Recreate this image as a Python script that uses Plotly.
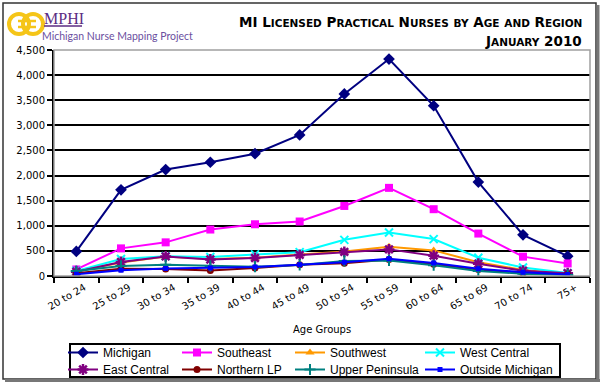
import plotly.graph_objects as go

age_groups = ["20 to 24", "25 to 29", "30 to 34", "35 to 39", "40 to 44", "45 to 49",
              "50 to 54", "55 to 59", "60 to 64", "65 to 69", "70 to 74", "75+"]
michigan = [490, 1715, 2120, 2265, 2435, 2810, 3625, 4320, 3390, 1870, 820, 395]
southeast = [130, 550, 670, 925, 1030, 1085, 1395, 1755, 1330, 845, 385, 250]
southwest = [90, 270, 390, 340, 365, 430, 490, 580, 510, 275, 120, 40]
west_central = [100, 340, 395, 380, 430, 475, 720, 865, 735, 365, 170, 58]
east_central = [85, 280, 390, 330, 360, 420, 480, 530, 405, 245, 105, 55]
northern_lp = [55, 145, 140, 110, 160, 225, 255, 330, 235, 130, 55, 35]
upper_peninsula = [100, 200, 225, 200, 185, 220, 300, 310, 215, 100, 45, 22]
outside_michigan = [35, 115, 150, 160, 180, 225, 275, 345, 260, 145, 75, 30]

W, H = 600, 382
L, R, T, B = 54, 10, 50, 106
PW, PH = W - L - R, H - T - B


def px(x):
    return (x - L) / PW


def py(y):
    return (H - B - y) / PH


# name, values, colour, symbol, size, marker line width
series = [
    ("Michigan", michigan, "#000080", "diamond", 9, 0),
    ("Southeast", southeast, "#FF00FF", "square", 8, 0),
    ("Southwest", southwest, "#FF9900", "triangle-up", 8, 0),
    ("West Central", west_central, "#00FFFF", "x-thin-open", 8, 2),
    ("East Central", east_central, "#800080", "asterisk-open", 9, 2.5),
    ("Northern LP", northern_lp, "#800000", "circle", 7, 0),
    ("Upper Peninsula", upper_peninsula, "#008080", "cross-thin-open", 8, 2),
    ("Outside Michigan", outside_michigan, "#0000FF", "square", 5, 0),
]

# legend entry placement (left x in px, top y in px)
legend_cols = [63, 177, 290, 420]
legend_rows = [338, 355]

fig = go.Figure()
legend_layouts = {}
for i, (name, vals, col, sym, size, lw) in enumerate(series):
    marker = dict(symbol=sym, size=size, color=col)
    if lw:
        marker["line"] = dict(color=col, width=lw)
    key = "legend" if i == 0 else "legend%d" % (i + 1)
    fig.add_trace(go.Scatter(x=age_groups, y=vals, name=name, mode="lines+markers",
                             line=dict(color=col, width=2), marker=marker, legend=key))
    legend_layouts[key] = dict(
        orientation="v", x=px(legend_cols[i % 4]), y=py(legend_rows[i // 4]),
        xanchor="left", yanchor="top", borderwidth=0, bgcolor="rgba(0,0,0,0)",
        font=dict(family="Liberation Sans", size=12, color="#000000"))

sc = '<span style="font-size:10.5px">'
title1 = ("<b>MI " + "L" + sc + "ICENSED</span> P" + sc + "RACTICAL</span> N" + sc + "URSES</span> "
          + sc + "BY</span> A" + sc + "GE</span> " + sc + "AND</span> R" + sc + "EGION</span></b>")
title2 = "<b>J" + sc + "ANUARY</span> 2010</b>"

shapes = [
    # plot area border (top/right gray)
    dict(type="rect", xref="paper", yref="paper", x0=0, x1=1, y0=0, y1=1,
         line=dict(color="#A0A0A0", width=1.5), layer="above"),
    # outer frame
    dict(type="rect", xref="paper", yref="paper", x0=px(3), x1=px(596), y0=py(3), y1=py(379),
         line=dict(color="#333333", width=1.5)),
    dict(type="line", xref="paper", yref="paper", x0=px(598), x1=px(598), y0=py(5), y1=py(382),
         line=dict(color="#777777", width=3)),
    dict(type="line", xref="paper", yref="paper", x0=px(5), x1=px(600), y0=py(380.5), y1=py(380.5),
         line=dict(color="#777777", width=3)),
    # legend box
    dict(type="rect", xref="paper", yref="paper", x0=px(70), x1=px(560), y0=py(344), y1=py(377),
         line=dict(color="#000000", width=2), fillcolor="white", layer="below"),
    # logo rings
    dict(type="circle", xref="paper", yref="paper", x0=px(9), x1=px(29), y0=py(14), y1=py(34),
         line=dict(color="#F5C518", width=4)),
    dict(type="circle", xref="paper", yref="paper", x0=px(23), x1=px(43), y0=py(14), y1=py(34),
         line=dict(color="#F5C518", width=4)),
    dict(type="line", xref="paper", yref="paper", x0=px(18), x1=px(36), y0=py(21), y1=py(21),
         line=dict(color="#F5C518", width=2.5)),
    dict(type="line", xref="paper", yref="paper", x0=px(18), x1=px(36), y0=py(27), y1=py(27),
         line=dict(color="#F5C518", width=2.5)),
    dict(type="line", xref="paper", yref="paper", x0=px(44), x1=px(82), y0=py(26), y1=py(26),
         line=dict(color="#5B2C83", width=1.5)),
]

annotations = [
    dict(text=title1, xref="paper", yref="paper", x=px(584), y=py(22), xanchor="right",
         yanchor="middle", showarrow=False,
         font=dict(family="DejaVu Sans", size=13.5, color="#000000")),
    dict(text=title2, xref="paper", yref="paper", x=px(584), y=py(41), xanchor="right",
         yanchor="middle", showarrow=False,
         font=dict(family="DejaVu Sans", size=13.5, color="#000000")),
    dict(text="MPHI", xref="paper", yref="paper", x=px(42), y=py(19), xanchor="left",
         yanchor="middle", showarrow=False,
         font=dict(family="Liberation Serif", size=16, color="#5B2C83")),
    dict(text="Michigan Nurse Mapping Project", xref="paper", yref="paper", x=px(40), y=py(36),
         xanchor="left", yanchor="middle", showarrow=False,
         font=dict(family="Lato", size=10.5, color="#6B4FA0")),
    dict(text="Age Groups", xref="paper", yref="paper", x=0.5, y=py(329), xanchor="center",
         yanchor="middle", showarrow=False,
         font=dict(family="DejaVu Sans", size=10, color="#000000")),
]

fig.update_layout(
    width=W, height=H,
    margin=dict(l=L, r=R, t=T, b=B, autoexpand=False),
    paper_bgcolor="white", plot_bgcolor="white",
    showlegend=True,
    shapes=shapes,
    annotations=annotations,
    xaxis=dict(type="category", showgrid=False, showline=True, linecolor="#000000", linewidth=2,
               ticks="outside", ticklen=5, tickwidth=1.5, tickcolor="#000000",
               tickson="boundaries", tickangle=-30, ticklabelshift=8,
               tickfont=dict(family="DejaVu Sans", size=10, color="#000000"),
               range=[-0.5, 11.5]),
    yaxis=dict(range=[0, 4500], dtick=500, tickformat=",", showgrid=True, gridcolor="#000000",
               gridwidth=1.6, zeroline=False, showline=True, linecolor="#000000", linewidth=2,
               ticks="outside", ticklen=5, tickwidth=1.5, tickcolor="#000000",
               tickfont=dict(family="DejaVu Sans", size=10, color="#000000")),
    **legend_layouts,
)

fig.write_html("out.html", config={"displayModeBar": False},
               post_script="document.body.style.margin='0px';document.body.style.overflow='hidden';")
